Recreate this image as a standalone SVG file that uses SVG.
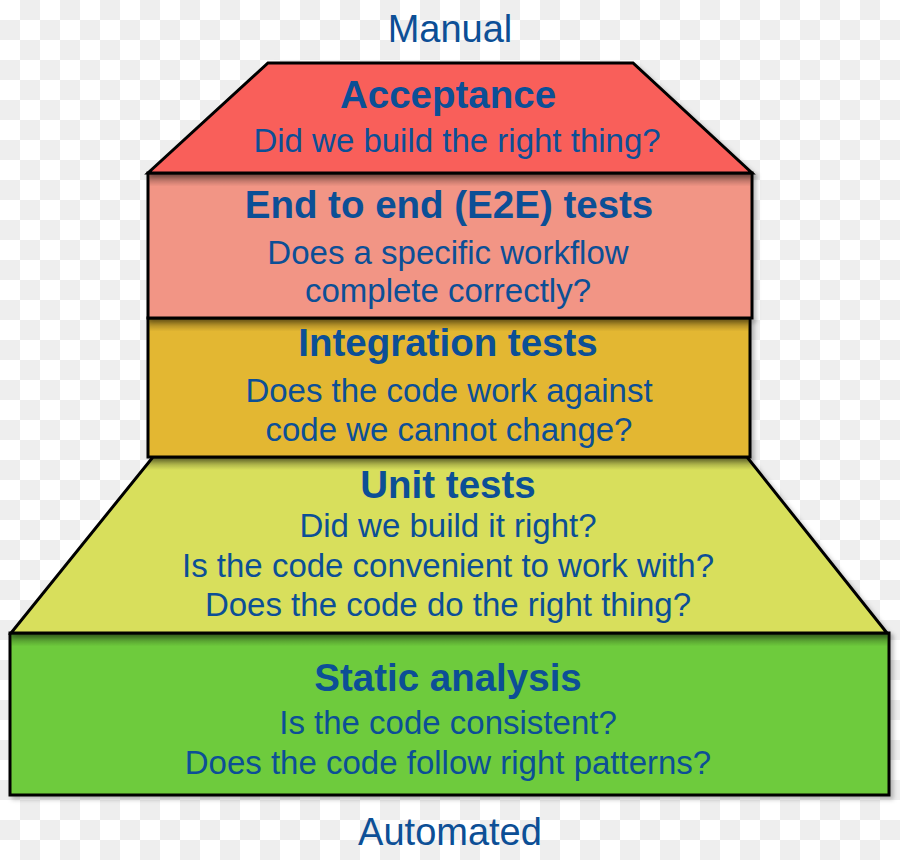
<svg xmlns="http://www.w3.org/2000/svg" width="900" height="860" viewBox="0 0 900 860">
  <defs>
    <pattern id="checker" width="40" height="40" patternUnits="userSpaceOnUse">
      <rect width="40" height="40" fill="#ffffff"/>
      <rect x="20" y="0" width="20" height="20" fill="#eeeeee"/>
      <rect x="0" y="20" width="20" height="20" fill="#eeeeee"/>
    </pattern>
    <linearGradient id="topShade" x1="0" y1="0" x2="0" y2="1">
      <stop offset="0" stop-color="#000" stop-opacity="0.38"/>
      <stop offset="1" stop-color="#000" stop-opacity="0"/>
    </linearGradient>
    <filter id="drop" x="-5%" y="-5%" width="115%" height="120%">
      <feDropShadow dx="3" dy="3" stdDeviation="2" flood-color="#000" flood-opacity="0.25"/>
    </filter>
  </defs>
  <style>
    .box { stroke: #000; stroke-width: 3; stroke-linejoin: miter; filter: url(#drop); }
    .shade { fill: url(#topShade); }
    .t { font-family: "Liberation Sans", Arial, Helvetica, sans-serif; fill: #0c4f96; text-anchor: middle; }
    .h { font-size: 38.5px; font-weight: bold; }
    .s { font-size: 33px; }
    .lbl { font-size: 38px; }
  </style>
  <rect width="900" height="860" fill="url(#checker)"/>

  <g id="static-analysis">
    <rect class="box" x="10" y="633" width="879" height="162" fill="#6ecb3c"/>
    <rect class="shade" x="11.5" y="634.5" width="876" height="12"/>
    <text class="t h" x="448" y="691">Static analysis</text>
    <text class="t s" x="448" y="734">Is the code consistent?</text>
    <text class="t s" x="448" y="774">Does the code follow right patterns?</text>
  </g>

  <g id="unit-tests">
    <polygon class="box" points="153,457 747,457 887,633 11,633" fill="#d8df5c"/>
    <polygon class="shade" points="153,458.5 747,458.5 756,470 143,470"/>
    <text class="t h" x="448" y="498">Unit tests</text>
    <text class="t s" x="448" y="537">Did we build it right?</text>
    <text class="t s" x="448" y="577">Is the code convenient to work with?</text>
    <text class="t s" x="448" y="616">Does the code do the right thing?</text>
  </g>

  <g id="integration-tests">
    <rect class="box" x="148" y="318" width="602" height="139" fill="#e3b733"/>
    <rect class="shade" x="149.5" y="319.5" width="599" height="12"/>
    <text class="t h" x="448" y="356">Integration tests</text>
    <text class="t s" x="449" y="402">Does the code work against</text>
    <text class="t s" x="449" y="441">code we cannot change?</text>
  </g>

  <g id="e2e-tests">
    <rect class="box" x="148" y="173" width="604" height="145" fill="#f29585"/>
    <rect class="shade" x="149.5" y="174.5" width="601" height="12"/>
    <text class="t h" x="449" y="218">End to end (E2E) tests</text>
    <text class="t s" x="448" y="264">Does a specific workflow</text>
    <text class="t s" x="448" y="302">complete correctly?</text>
  </g>

  <g id="acceptance">
    <polygon class="box" points="268,63 633,63 752,173 148,173" fill="#f95e5a"/>
    <text class="t h" x="448" y="108">Acceptance</text>
    <text class="t s" x="457" y="152">Did we build the right thing?</text>
  </g>

  <g id="labels">
    <text class="t lbl" x="450" y="42">Manual</text>
    <text class="t lbl" x="450" y="845">Automated</text>
  </g>

  <g id="connectors"></g>
</svg>
